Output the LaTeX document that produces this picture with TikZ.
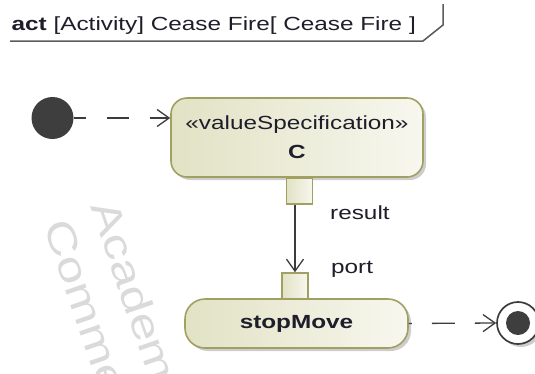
\documentclass[tikz,border=0pt]{standalone}
\usepackage{fontspec}
\setmainfont{Liberation Sans}[FakeStretch=1.28]
\usetikzlibrary{arrows.meta,shadows}

\definecolor{inkc}{HTML}{1E1E2A}
\definecolor{edgec}{HTML}{3C3C3C}
\definecolor{umlborder}{HTML}{A0A062}
\definecolor{fillA}{HTML}{E2E2C5}
\definecolor{fillB}{HTML}{F7F7EF}
\definecolor{wmark}{HTML}{DADADA}
\definecolor{framec}{HTML}{5C5C5C}
\definecolor{dotc}{HTML}{3E3E3E}

\begin{document}
\begin{tikzpicture}[x=1pt,y=-1pt,
  font=\fontsize{19}{23}\selectfont,
  umlshadow/.style={drop shadow={shadow xshift=3pt,shadow yshift=-3pt,opacity=0.28,fill=black!70}},
  actionbox/.style={draw=umlborder, line width=1.6pt, left color=fillA, right color=fillB,
    text=inkc, inner sep=0pt, umlshadow},
  pinbox/.style={draw=umlborder, line width=1.5pt, left color=fillA, right color=fillB,
    minimum size=26pt, inner sep=0pt},
  tip/.style={-{Straight Barb[length=12pt,width=17pt]}},
  flow/.style={draw=edgec, line width=1.3pt, tip},
  lbl/.style={anchor=base west, text=inkc, inner sep=0pt},
  wm/.style={rotate=-71, anchor=base west, text=wmark, inner sep=0pt,
    font=\fontsize{40}{40}\selectfont}]

\useasboundingbox (0,0) rectangle (535,373);

% faint licence watermark behind the diagram
\begin{scope}
  \clip (0,0) rectangle (535,373);
  \node[wm] (wmA) at (90,206.5) {Academ};
  \node[wm] (wmC) at (43,225.7) {Comme};
\end{scope}

% diagram frame heading
\node[lbl] (hdr) at (11.5,30) {\textbf{act} [Activity] Cease Fire[ Cease Fire ]};
\draw[framec, line width=1.5pt] (10,41) -- (423,41) -- (443,25) -- (443,4);

% actions
\node[actionbox, rounded corners=16pt, minimum width=252pt, minimum height=79pt, align=center]
  (vs) at (297,137.5) {«valueSpecification»\\[6pt]\textbf{C}};
\node[actionbox, rounded corners=20pt, minimum width=223pt, minimum height=49pt]
  (stop) at (296.5,323.5) {\textbf{stopMove}};

% pins
\node[pinbox] (res) at (299.7,191) {};
\node[pinbox] (port) at (295,286) {};
\node[lbl] (lres) at (330,219) {result};
\node[lbl] (lport) at (331,273) {port};

% initial and final nodes
\node[circle, fill=dotc, minimum size=42pt, inner sep=0pt] (init) at (52.5,118) {};
\node[circle, draw=edgec, line width=1.7pt, fill=white, minimum size=42pt, inner sep=0pt, umlshadow]
  (fin) at (518,323) {};
\node[circle, fill=dotc, minimum size=24pt, inner sep=0pt] (fdot) at (fin.center) {};

% flows
\draw[flow, dash pattern=on 22pt off 21pt, dash phase=10pt] (init.east) -- (init.east -| vs.west);
\draw[flow] (port.north |- res.south) -- (port.north);
\draw[flow, dash pattern=on 23pt off 20pt, dash phase=20pt] (stop.east) -- (fin.west);
\end{tikzpicture}
\end{document}
